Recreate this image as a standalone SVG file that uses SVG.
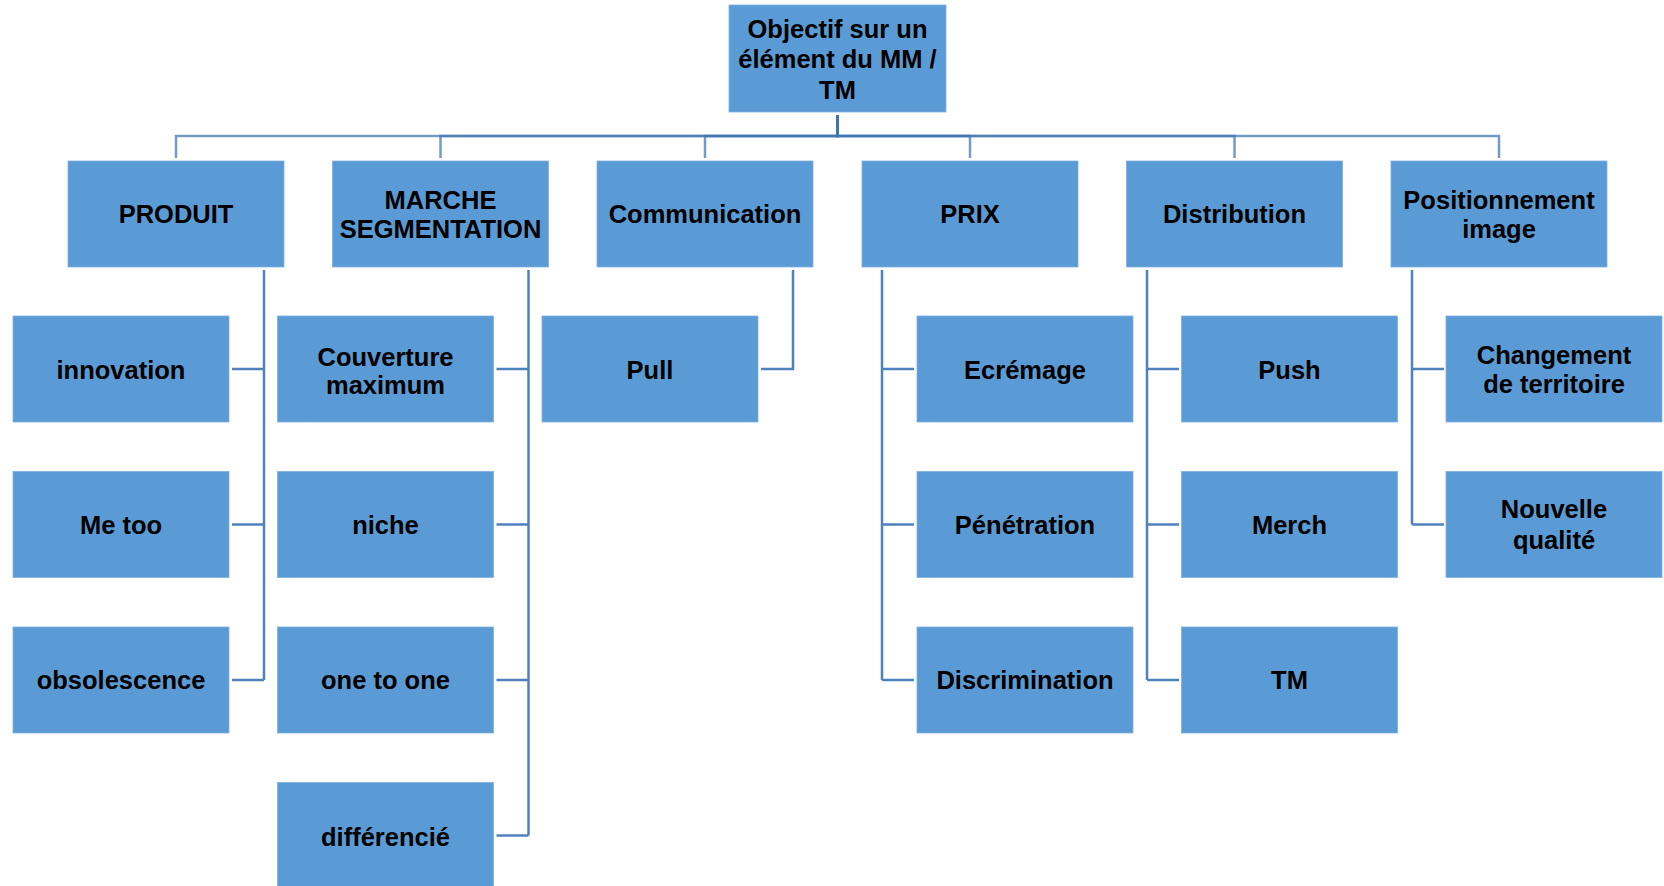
<svg xmlns="http://www.w3.org/2000/svg" width="1664" height="886" viewBox="0 0 1664 886">
<style>
.n{fill:#5b9bd5;stroke:#7fb0e0;stroke-width:0.8}
.t{font-family:"Liberation Sans",Arial,sans-serif;font-weight:bold;font-size:25.5px;fill:#000;text-anchor:middle}
.c{fill:none;stroke:#4f81bd;stroke-width:2.5}
.b{fill:none;stroke:#3f74ad;stroke-width:2.5;stroke-opacity:0.72}
</style>
<rect width="1664" height="886" fill="#fff"/>
<g id="connectors">
<path class="b" d="M837.5 115V136H176V158"/>
<path class="b" d="M837.5 115V136H440.5V158"/>
<path class="b" d="M837.5 115V136H705V158"/>
<path class="b" d="M837.5 115V136H970V158"/>
<path class="b" d="M837.5 115V136H1234.5V158"/>
<path class="b" d="M837.5 115V136H1499V158"/>
<path class="c" d="M264 270V680M232 369H264M232 524.5H264M232 680H264"/>
<path class="c" d="M528.5 270V835.5M496.5 369H528.5M496.5 524.5H528.5M496.5 680H528.5M496.5 835.5H528.5"/>
<path class="c" d="M793 270V369H761"/>
<path class="c" d="M882 270V680M882 369H914M882 524.5H914M882 680H914"/>
<path class="c" d="M1147 270V680M1147 369H1179M1147 524.5H1179M1147 680H1179"/>
<path class="c" d="M1412 270V524.5M1412 369H1444M1412 524.5H1444"/>
</g>
<g id="root"><rect class="n" x="729" y="5" width="217" height="107"/><text class="t" x="837.5" y="37.7">Objectif sur un</text><text class="t" x="837.5" y="68.3">élément du MM /</text><text class="t" x="837.5" y="99.3">TM</text></g>
<g id="produit"><rect class="n" x="68" y="161" width="216" height="106"/><text class="t" x="176" y="223">PRODUIT</text></g>
<g id="marche"><rect class="n" x="332.5" y="161" width="216" height="106"/><text class="t" x="440.5" y="209.3">MARCHE</text><text class="t" x="440.5" y="238.3">SEGMENTATION</text></g>
<g id="communication"><rect class="n" x="597" y="161" width="216" height="106"/><text class="t" x="705" y="223">Communication</text></g>
<g id="prix"><rect class="n" x="862" y="161" width="216" height="106"/><text class="t" x="970" y="223">PRIX</text></g>
<g id="distribution"><rect class="n" x="1126.5" y="161" width="216" height="106"/><text class="t" x="1234.5" y="223">Distribution</text></g>
<g id="positionnement"><rect class="n" x="1391" y="161" width="216" height="106"/><text class="t" x="1499" y="209.3">Positionnement</text><text class="t" x="1499" y="237.5">image</text></g>
<g id="innovation"><rect class="n" x="13" y="316" width="216" height="106"/><text class="t" x="121" y="379">innovation</text></g>
<g id="metoo"><rect class="n" x="13" y="471.5" width="216" height="106"/><text class="t" x="121" y="534">Me too</text></g>
<g id="obsolescence"><rect class="n" x="13" y="627" width="216" height="106"/><text class="t" x="121" y="689">obsolescence</text></g>
<g id="couverture"><rect class="n" x="277.5" y="316" width="216" height="106"/><text class="t" x="385.5" y="365.5">Couverture</text><text class="t" x="385.5" y="393.5">maximum</text></g>
<g id="niche"><rect class="n" x="277.5" y="471.5" width="216" height="106"/><text class="t" x="385.5" y="534">niche</text></g>
<g id="onetoone"><rect class="n" x="277.5" y="627" width="216" height="106"/><text class="t" x="385.5" y="689">one to one</text></g>
<g id="differencie"><rect class="n" x="277.5" y="782.5" width="216" height="106"/><text class="t" x="385.5" y="845.5">différencié</text></g>
<g id="pull"><rect class="n" x="542" y="316" width="216" height="106"/><text class="t" x="650" y="379">Pull</text></g>
<g id="ecremage"><rect class="n" x="917" y="316" width="216" height="106"/><text class="t" x="1025" y="379">Ecrémage</text></g>
<g id="penetration"><rect class="n" x="917" y="471.5" width="216" height="106"/><text class="t" x="1025" y="534">Pénétration</text></g>
<g id="discrimination"><rect class="n" x="917" y="627" width="216" height="106"/><text class="t" x="1025" y="689">Discrimination</text></g>
<g id="push"><rect class="n" x="1181.5" y="316" width="216" height="106"/><text class="t" x="1289.5" y="379">Push</text></g>
<g id="merch"><rect class="n" x="1181.5" y="471.5" width="216" height="106"/><text class="t" x="1289.5" y="534">Merch</text></g>
<g id="tm"><rect class="n" x="1181.5" y="627" width="216" height="106"/><text class="t" x="1289.5" y="689">TM</text></g>
<g id="changement"><rect class="n" x="1446" y="316" width="216" height="106"/><text class="t" x="1554" y="364">Changement</text><text class="t" x="1554" y="392.5">de territoire</text></g>
<g id="nouvelle"><rect class="n" x="1446" y="471.5" width="216" height="106"/><text class="t" x="1554" y="518">Nouvelle</text><text class="t" x="1554" y="549">qualité</text></g>
</svg>
